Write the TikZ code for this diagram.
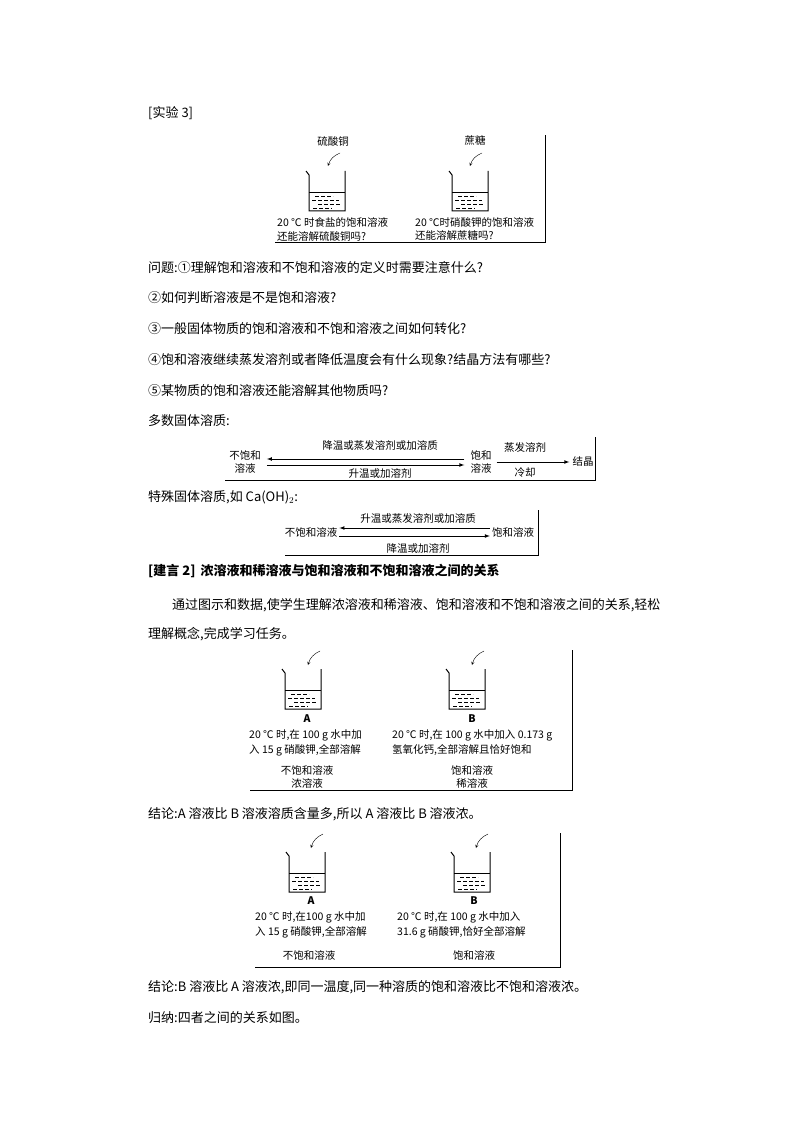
\documentclass[tikz,border=0pt]{standalone}
\usepackage{fontspec}
\setmainfont{Noto Sans CJK SC}
\newfontfamily\cjk{Noto Sans CJK SC}
\usetikzlibrary{positioning}

\tikzset{
  beaker/.pic={
    \draw[line width=1pt] (-21,0) -- (-18,4) -- (-18,40) -- (18,40) -- (18,0);
    \draw (-18,21) -- (18,21);
    \foreach \yy/\xa/\xb in {25/-12/6, 29/-15/12, 33/-9/14, 37/-14/5}
      \draw[dash pattern=on 4pt off 2pt, line width=0.8pt] (\xa,\yy) -- (\xb,\yy);
  }
}

\begin{document}
\begin{tikzpicture}[x=1pt, y=-1pt,
  body/.style={anchor=west, inner sep=0pt, font=\fontsize{13}{15}\selectfont},
  lab/.style={inner sep=0pt, font=\fontsize{10.5}{13.5}\selectfont},
  labw/.style={lab, anchor=west},
  frame/.style={line width=0.8pt},
  arr/.style={-latex, line width=0.7pt},
  drop/.style={->, >=stealth, thin},
]
\useasboundingbox (0,0) rectangle (794,1123);

% body text
\node[body] (t1) at (148,113) {[实验 3]};
\node[body] (q1) at (148,268) {问题:①理解饱和溶液和不饱和溶液的定义时需要注意什么?};
\node[body] (q2) at (148,298) {②如何判断溶液是不是饱和溶液?};
\node[body] (q3) at (148,329) {③一般固体物质的饱和溶液和不饱和溶液之间如何转化?};
\node[body] (q4) at (148,360) {④饱和溶液继续蒸发溶剂或者降低温度会有什么现象?结晶方法有哪些?};
\node[body] (q5) at (148,391) {⑤某物质的饱和溶液还能溶解其他物质吗?};
\node[body] (t2) at (148,421) {多数固体溶质:};
\node[body] (t3) at (148,497) {特殊固体溶质,如 Ca(OH)$_2$:};
\node[body, font=\fontsize{13}{15}\selectfont\bfseries] (t4) at (148,571) {[建言 2]\, 浓溶液和稀溶液与饱和溶液和不饱和溶液之间的关系};
\node[body] (t5) at (172,605) {通过图示和数据,使学生理解浓溶液和稀溶液、饱和溶液和不饱和溶液之间的关系,轻松};
\node[body] (t6) at (148,634) {理解概念,完成学习任务。};
\node[body] (t7) at (148,814) {结论:A 溶液比 B 溶液溶质含量多,所以 A 溶液比 B 溶液浓。};
\node[body] (t8) at (148,987) {结论:B 溶液比 A 溶液浓,即同一温度,同一种溶质的饱和溶液比不饱和溶液浓。};
\node[body] (t9) at (148,1018) {归纳:四者之间的关系如图。};

% experiment 3
\draw[frame] (275,242) -- (545,242) -- (545,135);
\node[lab] (cu) at (333,141) {硫酸铜};
\node[lab] (su) at (475,141) {蔗糖};
\coordinate (cu1) at (340,153); \coordinate (cu2) at (328,166);
\coordinate (su1) at (482,153); \coordinate (su2) at (470,166);
\draw[drop] (cu1) to[bend right=25] (cu2);
\draw[drop] (su1) to[bend right=25] (su2);
\pic at (327,171) {beaker};
\pic at (470,171) {beaker};
\node[labw] (e1a) at (277,222) {20 ℃ 时食盐的饱和溶液};
\node[labw] (e1b) at (277,236) {还能溶解硫酸铜吗?};
\node[labw] (e2a) at (415,222) {20 ℃时硝酸钾的饱和溶液};
\node[labw] (e2b) at (415,236) {还能溶解蔗糖吗?};

% most solids
\draw[frame] (225,480) -- (595,480) -- (595,437);
\node[lab, align=center] (uns) at (245,462) {不饱和\\溶液};
\node[lab, align=center] (sat) at (481,462) {饱和\\溶液};
\node[lab] (cry) at (583,462) {结晶};
\node[lab] (c1) at (380,446) {降温或蒸发溶剂或加溶质};
\node[lab] (c2) at (380,473) {升温或加溶剂};
\node[lab] (c3) at (525,448) {蒸发溶剂};
\node[lab] (c4) at (525,473) {冷却};
\draw[arr] ([yshift=-3pt]uns.east) ++(6,0) -- ([yshift=-3pt,xshift=-6pt]sat.west);
\draw[arr] ([yshift=3pt,xshift=-6pt]sat.west) -- ([yshift=3pt,xshift=6pt]uns.east);
\draw[arr] ([xshift=5pt]sat.east) -- ([xshift=-3pt]cry.west);

% calcium hydroxide
\draw[frame] (285,555) -- (538,555) -- (538,510);
\node[lab] (uns2) at (311,532) {不饱和溶液};
\node[lab] (sat2) at (513,532) {饱和溶液};
\node[lab] (d1) at (418,519) {升温或蒸发溶剂或加溶质};
\node[lab] (d2) at (418,548) {降温或加溶剂};
\draw[arr] ([yshift=-4pt,xshift=2pt]uns2.east) -- ([yshift=-4pt,xshift=-2pt]sat2.west);
\draw[arr] ([yshift=4pt,xshift=-2pt]sat2.west) -- ([yshift=4pt,xshift=2pt]uns2.east);

% A vs B (calcium hydroxide)
\draw[frame] (250,790) -- (572,790) -- (572,650);
\coordinate (a1) at (320,651); \coordinate (a2) at (308,665);
\coordinate (b1) at (484,651); \coordinate (b2) at (472,665);
\draw[drop] (a1) to[bend right=25] (a2);
\draw[drop] (b1) to[bend right=25] (b2);
\pic at (303,669) {beaker};
\pic at (467,669) {beaker};
\node[lab, font=\fontsize{10.5}{12}\selectfont\bfseries] (la) at (307,719) {A};
\node[lab, font=\fontsize{10.5}{12}\selectfont\bfseries] (lb) at (472,719) {B};
\node[labw] (ta1) at (249,735) {20 ℃ 时,在 100 g 水中加};
\node[labw] (ta2) at (249,750) {入 15 g 硝酸钾,全部溶解};
\node[labw] (tb1) at (392,735) {20 ℃ 时,在 100 g 水中加入 0.173 g};
\node[labw] (tb2) at (392,750) {氢氧化钙,全部溶解且恰好饱和};
\node[lab, align=center] (sa) at (307,777) {不饱和溶液\\浓溶液};
\node[lab, align=center] (sb) at (472,777) {饱和溶液\\稀溶液};

% A vs B (potassium nitrate)
\draw[frame] (255,967) -- (560,967) -- (560,833);
\coordinate (a3) at (323,834); \coordinate (a4) at (311,848);
\coordinate (b3) at (488,834); \coordinate (b4) at (476,848);
\draw[drop] (a3) to[bend right=25] (a4);
\draw[drop] (b3) to[bend right=25] (b4);
\pic at (307,852) {beaker};
\pic at (472,852) {beaker};
\node[lab, font=\fontsize{10.5}{12}\selectfont\bfseries] (la2) at (311,901) {A};
\node[lab, font=\fontsize{10.5}{12}\selectfont\bfseries] (lb2) at (474,901) {B};
\node[labw] (tc1) at (255,917) {20 ℃ 时,在100 g 水中加};
\node[labw] (tc2) at (255,932) {入 15 g 硝酸钾,全部溶解};
\node[labw] (td1) at (397,917) {20 ℃ 时,在 100 g 水中加入};
\node[labw] (td2) at (397,932) {31.6 g 硝酸钾,恰好全部溶解};
\node[lab] (sc) at (309,955) {不饱和溶液};
\node[lab] (sd) at (474,955) {饱和溶液};
\end{tikzpicture}
\end{document}
